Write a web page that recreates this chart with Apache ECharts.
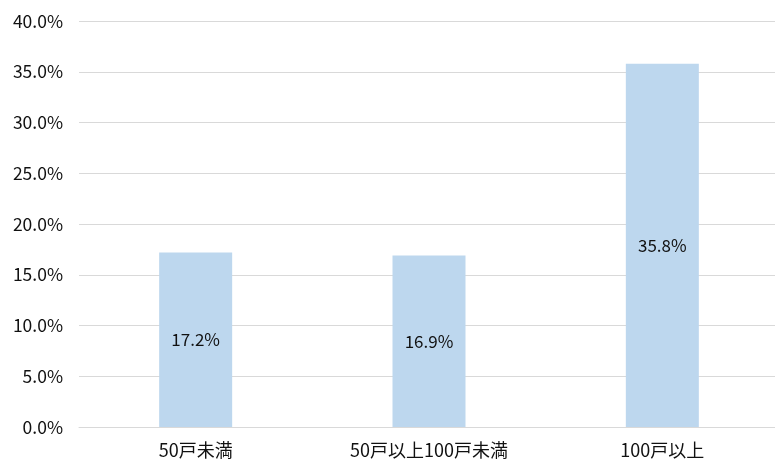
<!DOCTYPE html>
<html>
<head>
<meta charset="utf-8">
<script src="https://cdn.jsdelivr.net/npm/echarts@6/dist/echarts.min.js"></script>
<style>
  html, body { margin: 0; padding: 0; background: #fff; overflow: hidden; }
  #chart { width: 779px; height: 462px; }
</style>
</head>
<body>
<div id="chart"></div>
<script>
// Share of households by building size (percent)
const categories = ['50戸未満', '50戸以上100戸未満', '100戸以上'];
const shares = [17.2, 16.9, 35.8];

// Value axis range
const axisMin = 0;
const axisMax = 40;
const axisStep = 5;

const FONT = "'Noto Sans CJK JP', sans-serif";

const chart = echarts.init(document.getElementById('chart'), null, { renderer: 'canvas' });

chart.setOption({
  animation: false,
  backgroundColor: '#ffffff',
  grid: { left: 79, right: 0, top: 21, bottom: 35, containLabel: false },
  xAxis: {
    type: 'category',
    data: categories,
    axisLine: { show: true, lineStyle: { color: '#d9d9d9', width: 1 } },
    axisTick: { show: false },
    axisLabel: { color: '#111', fontFamily: FONT, fontSize: 18, margin: 14 }
  },
  yAxis: {
    type: 'value',
    min: axisMin,
    max: axisMax,
    interval: axisStep,
    axisLine: { show: false },
    axisTick: { show: false },
    splitLine: { show: true, lineStyle: { color: '#d9d9d9', width: 1 } },
    axisLabel: {
      color: '#111',
      fontFamily: FONT,
      fontSize: 17.5,
      margin: 16,
      formatter: v => v.toFixed(1) + '%'
    }
  },
  series: [{
    type: 'bar',
    data: shares,
    barWidth: 73,
    itemStyle: { color: '#bdd7ee' },
    label: {
      show: true,
      position: 'inside',
      color: '#111',
      fontFamily: FONT,
      fontSize: 17,
      formatter: p => p.value.toFixed(1) + '%'
    }
  }]
});
</script>
</body>
</html>
